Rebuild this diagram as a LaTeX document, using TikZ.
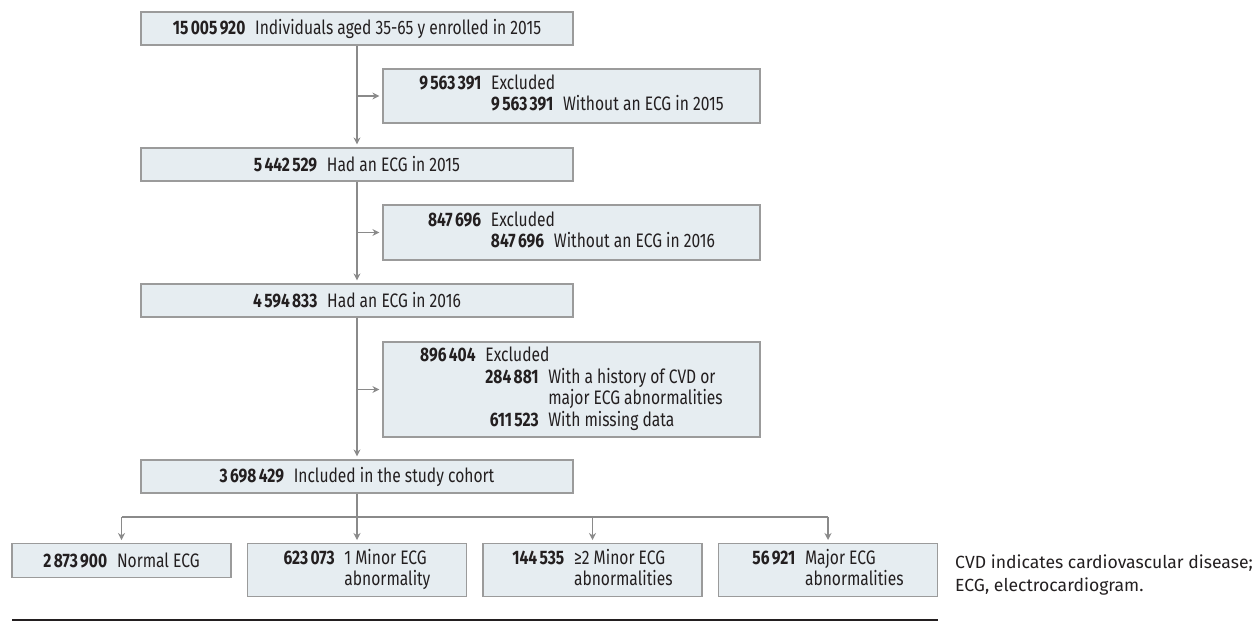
\documentclass[tikz,border=0pt]{standalone}
\usepackage{fontspec}
\setmainfont{Fira Sans}
\newfontfamily\boxfont[FakeStretch=0.8]{Fira Sans}
\usepackage{tikz}
\usetikzlibrary{arrows.meta,positioning}

\definecolor{boxfill}{HTML}{E6EDF1}
\definecolor{boxline}{HTML}{9B9B9B}
\definecolor{flowgray}{HTML}{8A8A8A}
\definecolor{inktext}{HTML}{231F20}
\newcommand{\gsp}{\hspace{0.12em}}

\begin{document}
\begin{tikzpicture}[x=1pt, y=-1pt, >={Stealth[length=7pt,width=7pt]},
    box/.style={draw=boxline, fill=boxfill, line width=1.2pt, minimum height=33pt,
        inner sep=0pt, text=inktext, font=\boxfont\fontsize{19.5}{19.5}\selectfont},
    mainbox/.style={box, minimum width=432pt},
    exbox/.style={box, minimum width=377pt},
    endbox/.style={box, minimum width=219pt, anchor=north},
    link/.style={draw=flowgray, line width=1.2pt},
    flow/.style={link, ->, shorten >=3pt}]
    \useasboundingbox (0,0) rectangle (1260,622);

    % Main boxes
    \node[mainbox] (start) at (357,28.5) {\textbf{15\gsp005\gsp920}\enspace Individuals aged 35-65 y enrolled in 2015};
    \node[mainbox] (ecg15) at (357,164.5) {\textbf{5\gsp442\gsp529}\enspace Had an ECG in 2015};
    \node[mainbox] (ecg16) at (357,300.5) {\textbf{4\gsp594\gsp833}\enspace Had an ECG in 2016};
    \node[mainbox] (cohort) at (357,476.5) {\textbf{3\gsp698\gsp429}\enspace Included in the study cohort};

    % Exclusions
    \node[exbox, minimum height=54pt] (ex1) at (571.5,96) {%
        \begin{tabular}{@{}r@{\enspace}r@{\enspace}l@{}}
            \textbf{9\gsp563\gsp391} & \multicolumn{2}{@{}l@{}}{Excluded}\\
            & \textbf{9\gsp563\gsp391} & Without an ECG in 2015
        \end{tabular}};
    \node[exbox, minimum height=55pt] (ex2) at (571.5,232.5) {%
        \begin{tabular}{@{}r@{\enspace}r@{\enspace}l@{}}
            \textbf{847\gsp696} & \multicolumn{2}{@{}l@{}}{Excluded}\\
            & \textbf{847\gsp696} & Without an ECG in 2016
        \end{tabular}};
    \node[exbox, minimum height=95pt] (ex3) at (571.5,389.5) {%
        \begin{tabular}{@{}r@{\enspace}r@{\enspace}l@{}}
            \textbf{896\gsp404} & \multicolumn{2}{@{}l@{}}{Excluded}\\[1pt]
            & \textbf{284\gsp881} & With a history of CVD or\\
            & & major ECG abnormalities\\[1pt]
            & \textbf{611\gsp523} & With missing data
        \end{tabular}};

    % ECG groups
    \node[endbox, minimum height=34pt] (normal) at (121.5,543) {\textbf{2\gsp873\gsp900}\enspace Normal ECG};
    \node[endbox, minimum height=53pt] (minor1) at (357,543) {%
        \begin{tabular}{@{}r@{\enspace}l@{}}
            \textbf{623\gsp073} & 1 Minor ECG\\
            & abnormality
        \end{tabular}};
    \node[endbox, minimum height=53pt] (minor2) at (592.5,543) {%
        \begin{tabular}{@{}r@{\enspace}l@{}}
            \textbf{144\gsp535} & ≥2 Minor ECG\\
            & abnormalities
        \end{tabular}};
    \node[endbox, minimum height=53pt] (major) at (828,543) {%
        \begin{tabular}{@{}r@{\enspace}l@{}}
            \textbf{56\gsp921} & Major ECG\\
            & abnormalities
        \end{tabular}};

    % Trunk
    \draw[flow] (start) -- (ecg15);
    \draw[flow] (ecg15) -- (ecg16);
    \draw[flow] (ecg16) -- (cohort);
    \draw[flow] (cohort) -- (minor1);

    % Side arrows
    \coordinate (j1) at (start.south |- ex1.west);
    \coordinate (j2) at (start.south |- ex2.west);
    \coordinate (j3) at (start.south |- ex3.west);
    \draw[flow] (j1) -- (ex1.west);
    \draw[flow] (j2) -- (ex2.west);
    \draw[flow] (j3) -- (ex3.west);

    % Split
    \coordinate (split) at (357,517);
    \draw[link] (split -| normal.north) -- (split -| major.north);
    \draw[flow] (split -| normal.north) -- (normal.north);
    \draw[flow] (split -| minor2.north) -- (minor2.north);
    \draw[flow] (split -| major.north) -- (major.north);

    % Rule and note
    \coordinate (ruleL) at (12,620);
    \coordinate (ruleR) at (938,620);
    \draw[line width=1.6pt, inktext] (ruleL) -- (ruleR);
    \node[anchor=north west, align=left, inner sep=0pt, text=inktext,
        font=\fontsize{17.6}{23}\selectfont] (note) at (955,555)
        {CVD indicates cardiovascular disease;\\ECG, electrocardiogram.};
\end{tikzpicture}
\end{document}
